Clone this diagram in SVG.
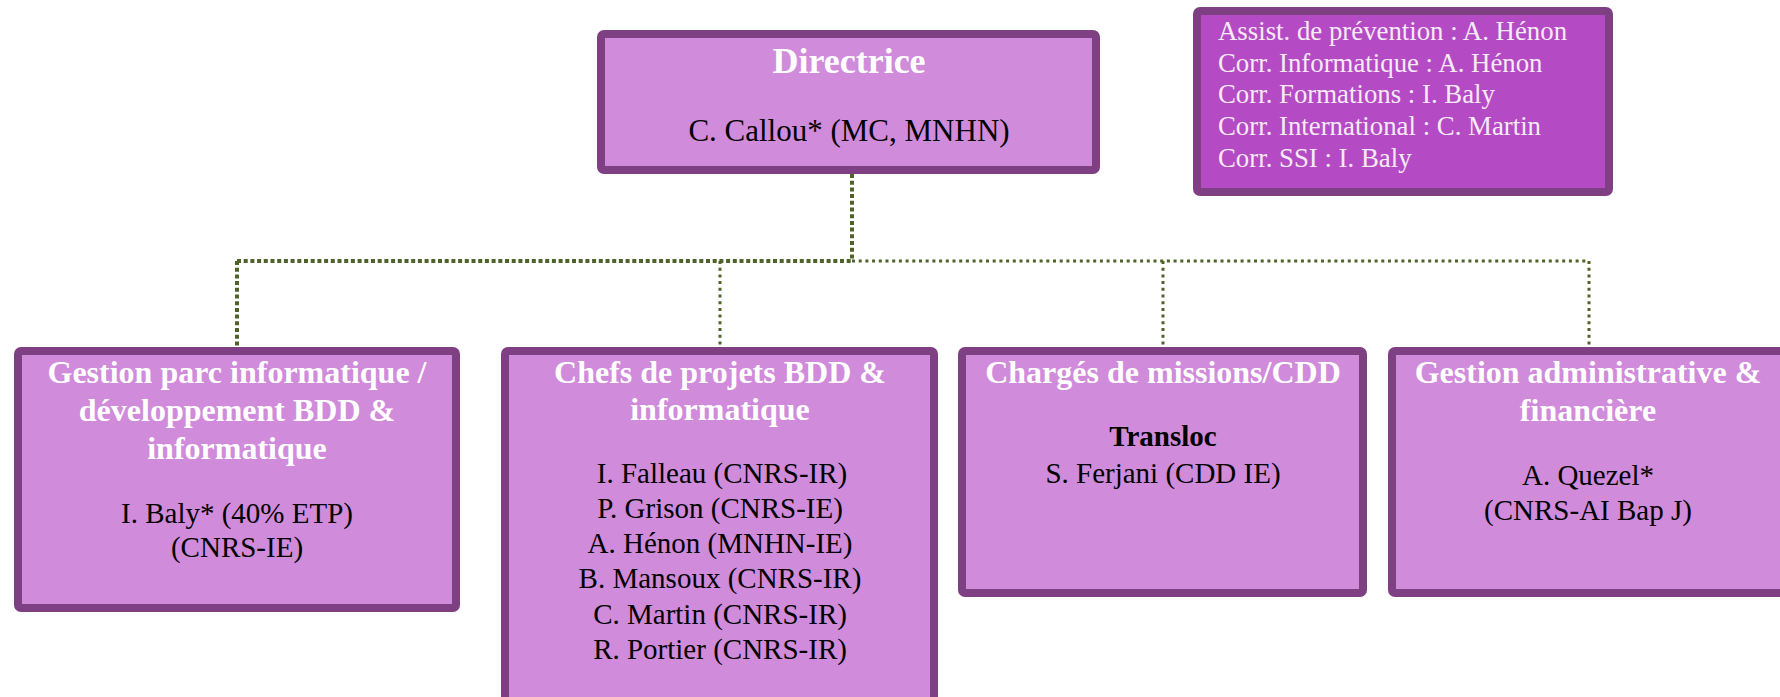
<svg xmlns="http://www.w3.org/2000/svg" width="1780" height="697" viewBox="0 0 1780 697">
<style>
.box{fill:#D08BDB;stroke:#7E4083;stroke-width:8}
.info{fill:#B44BC5;stroke:#7E4083;stroke-width:8}
.t{font-family:"Liberation Serif","Times New Roman",serif;font-weight:bold;font-size:32px;fill:#FFFFFF;text-anchor:middle}
.b{font-family:"Liberation Serif","Times New Roman",serif;font-size:29px;fill:#000000;text-anchor:middle}
.bb{font-family:"Liberation Serif","Times New Roman",serif;font-size:29px;font-weight:bold;fill:#000000;text-anchor:middle}
.i{font-family:"Liberation Serif","Times New Roman",serif;font-size:26.8px;fill:#F6EAF7}
.c4{fill:none;stroke:#4F6228;stroke-width:4;stroke-dasharray:4 2.7}
.c3{fill:none;stroke:#4F6228;stroke-width:3;stroke-dasharray:3 3.7}
</style>
<g id="connectors">
<line class="c4" x1="852" y1="174" x2="852" y2="261"/>
<line class="c4" x1="237" y1="261" x2="852" y2="261"/>
<line class="c3" x1="852" y1="261" x2="1589" y2="261"/>
<line class="c4" x1="237" y1="261" x2="237" y2="347"/>
<line class="c3" x1="720" y1="261" x2="720" y2="347"/>
<line class="c3" x1="1163" y1="261" x2="1163" y2="347"/>
<line class="c3" x1="1589" y1="261" x2="1589" y2="347"/>
</g>
<g id="directrice">
<rect class="box" x="601" y="34" width="495" height="136" rx="3"/>
<text class="t" x="849" y="73" style="font-size:36px">Directrice</text>
<text class="b" x="849" y="141" style="font-size:31px">C. Callou* (MC, MNHN)</text>
</g>
<g id="info">
<rect class="info" x="1197" y="11" width="412" height="181" rx="3"/>
<text class="i" x="1218" y="40">Assist. de prévention : A. Hénon</text>
<text class="i" x="1218" y="72">Corr. Informatique : A. Hénon</text>
<text class="i" x="1218" y="103">Corr. Formations : I. Baly</text>
<text class="i" x="1218" y="135">Corr. International : C. Martin</text>
<text class="i" x="1218" y="167">Corr. SSI : I. Baly</text>
</g>
<g id="gestion-parc">
<rect class="box" x="18" y="351" width="438" height="257" rx="3"/>
<text class="t" x="237" y="383">Gestion parc informatique /</text>
<text class="t" x="237" y="421">développement BDD &amp;</text>
<text class="t" x="237" y="459">informatique</text>
<text class="b" x="237" y="523">I. Baly* (40% ETP)</text>
<text class="b" x="237" y="557">(CNRS-IE)</text>
</g>
<g id="chefs-projets">
<rect class="box" x="505" y="351" width="429" height="360" rx="3"/>
<text class="t" x="720" y="383">Chefs de projets BDD &amp;</text>
<text class="t" x="720" y="420">informatique</text>
<text class="b" x="722" y="483">I. Falleau (CNRS-IR)</text>
<text class="b" x="720" y="518">P. Grison (CNRS-IE)</text>
<text class="b" x="720" y="553">A. Hénon (MNHN-IE)</text>
<text class="b" x="720" y="588">B. Mansoux (CNRS-IR)</text>
<text class="b" x="720" y="624">C. Martin (CNRS-IR)</text>
<text class="b" x="720" y="659">R. Portier (CNRS-IR)</text>
</g>
<g id="charges-missions">
<rect class="box" x="962" y="351" width="401" height="242" rx="3"/>
<text class="t" x="1163" y="383">Chargés de missions/CDD</text>
<text class="bb" x="1163" y="446">Transloc</text>
<text class="b" x="1163" y="483">S. Ferjani (CDD IE)</text>
</g>
<g id="gestion-admin">
<rect class="box" x="1392" y="351" width="392" height="242" rx="3"/>
<text class="t" x="1588" y="383">Gestion administrative &amp;</text>
<text class="t" x="1588" y="421">financière</text>
<text class="b" x="1588" y="485">A. Quezel*</text>
<text class="b" x="1588" y="520">(CNRS-AI Bap J)</text>
</g>
</svg>
